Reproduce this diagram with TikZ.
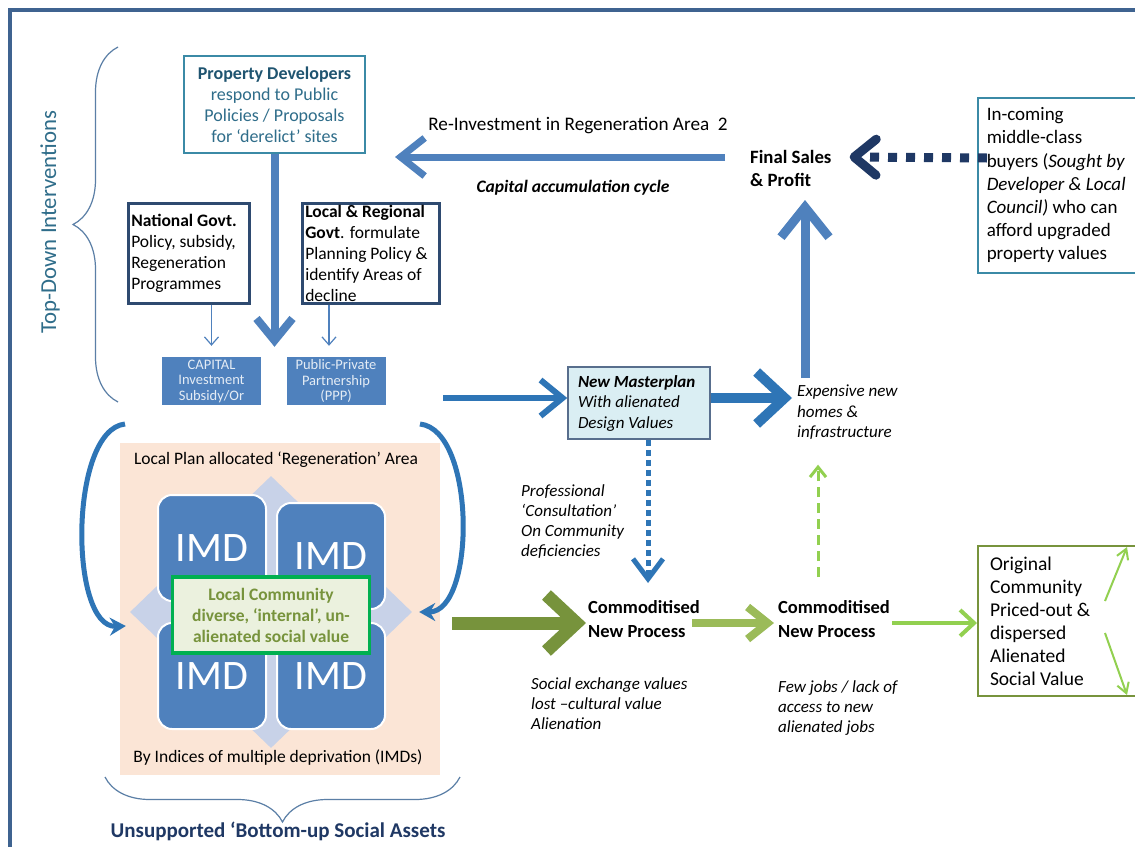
\documentclass[tikz,border=0pt]{standalone}
\usepackage{fontspec}
\setmainfont{Carlito}
\usetikzlibrary{ arrows.meta,
                 positioning,               % For easy node-relative placements
                 shapes.geometric,          % For the diamond behind the IMDs
                 decorations.pathreplacing, % For the braces
               }
\definecolor{frameblue}{HTML}{3F6390}
\definecolor{tealline}{HTML}{3B8AA6}
\definecolor{tealtext}{HTML}{2F6D8A}
\definecolor{tealhead}{HTML}{1F5470}
\definecolor{navy}{HTML}{1F3864}
\definecolor{boxnavy}{HTML}{2E4A70}
\definecolor{midblue}{HTML}{4F81BD}
\definecolor{brightblue}{HTML}{2E75B6}
\definecolor{paleblue}{HTML}{DAEEF3}
\definecolor{peach}{HTML}{FBE5D6}
\definecolor{rhombblue}{HTML}{C8D2E8}
\definecolor{darkgreen}{HTML}{77933C}
\definecolor{midgreen}{HTML}{9BBB59}
\definecolor{lightgreen}{HTML}{92D050}
\definecolor{commgreen}{HTML}{00B050}
\definecolor{commfill}{HTML}{EBF1DE}
\definecolor{bracegrey}{HTML}{5B7FA6}

\tikzstyle{tealbox} = [rectangle, draw=tealline, line width=1.5, fill=white]
\tikzstyle{govbox} = [rectangle, draw=boxnavy, line width=2.5, align=flush left, inner xsep=3, inner ysep=0, minimum height=100, anchor=north west]
\tikzstyle{fundbox} = [rectangle, fill=midblue, text=white!85!midblue, align=center, font=\fontsize{14.5}{15.5}\selectfont, minimum width=99, minimum height=48, inner sep=1]
\tikzstyle{imdbox} = [rectangle, rounded corners=14, fill=midblue, draw=white, line width=2, minimum width=108, minimum height=106, text=white, font=\fontsize{42}{42}\selectfont]
\tikzstyle{note} = [align=flush left, anchor=north west, inner sep=0, font=\fontsize{17}{20.3}\selectfont\itshape]
\tikzstyle{process} = [align=flush left, anchor=north west, inner sep=0, font=\fontsize{18.5}{24}\selectfont\bfseries]
\tikzstyle{fatarrow} = [midblue, line width=8, -{Straight Barb[length=22, width=36]}]
\tikzstyle{thinarrow} = [midblue, line width=1.2, -{Straight Barb[length=8, width=14]}]
\tikzstyle{curvearrow} = [brightblue, line width=5, -{Stealth[length=16, width=18]}]
\tikzstyle{brace} = [bracegrey, line width=1.2, decorate]

\begin{document}
\begin{tikzpicture}[x=1pt, y=-1pt, font=\fontsize{17.5}{21}\selectfont]
  \useasboundingbox (0,0) rectangle (1135,846);
  \fill[white] (0,0) rectangle (1135,846);
  \draw[frameblue, line width=4] (10,860) -- (10,10) -- (1145,10);

  % top-down side
  \draw[brace, decoration={brace, amplitude=45}] (118,402) -- (118,47);
  \node (topdown) [rotate=90, text=tealtext, font=\fontsize{22.8}{23}\selectfont] at (50,222) {Top-Down Interventions};

  \node (prop) [tealbox, text=tealtext, align=center, minimum width=181, minimum height=97, font=\fontsize{18}{21}\selectfont] at (274.5,104.5)
    {\textbf{\color{tealhead}Property Developers}\\respond to Public\\Policies / Proposals\\for ‘derelict’ sites};
  \node (natgov) [govbox, text width=115, minimum width=121] at (127,202)
    {\textbf{National Govt.}\\Policy, subsidy,\\Regeneration\\Programmes};
  \node (locgov) [govbox, text width=131, minimum width=137] at (301,202)
    {\textbf{Local \& Regional}\\\textbf{Govt}. formulate\\Planning Policy \&\\identify Areas of\\decline};
  \node (capital) [fundbox] at (211.5,381) {CAPITAL\\Investment\\Subsidy/Or};
  \node (ppp) [fundbox] at (336,381) {Public-Private\\Partnership\\(PPP)};

  \draw[fatarrow] (prop.south) -- ([yshift=10]prop.south |- capital.north);
  \draw[thinarrow] (natgov.south -| capital.north) -- ([yshift=11]capital.north);
  \draw[thinarrow] (locgov.south -| ppp.north) ++(-7,0) -- ([xshift=-7, yshift=11]ppp.north);

  % capital accumulation cycle
  \node (sales) [align=flush left, anchor=north west, inner sep=0, font=\fontsize{18.8}{23}\selectfont\bfseries] at (750,150) {Final Sales\\\& Profit};
  \node (reinvest) [font=\fontsize{19.2}{21}\selectfont] at (578,126) {Re-Investment in Regeneration Area\ \ 2};
  \node (cycle) [font=\fontsize{17.5}{21}\selectfont\bfseries\itshape] at (573,188) {Capital accumulation cycle};
  \coordinate (reinvTip) at (395,157);
  \coordinate (salesIn) at (805,200);
  \draw[fatarrow, line width=7, -{Straight Barb[length=24, width=38]}] (sales.west |- reinvTip) ++(-25,0) -- (reinvTip);

  \node (buyers) [tealbox, anchor=north west, align=flush left, text width=155, inner xsep=9, minimum height=175, font=\fontsize{19}{23.2}\selectfont] at (977,97)
    {In-coming\\middle-class\\buyers (\textit{Sought by}\\\textit{Developer \& Local}\\\textit{Council)} who can\\afford upgraded\\property values};
  \draw[navy, line width=9, dash pattern=on 9 off 9, -{Straight Barb[length=22, width=36, round]}] (buyers.west |- reinvTip) ++(10,1) -- ([xshift=18]sales.east |- reinvTip);

  % new masterplan
  \node (master) [rectangle, fill=paleblue, draw=boxnavy!80, line width=1.5, align=flush left, text width=122, inner xsep=10, minimum height=72, font=\fontsize{17}{20.5}\selectfont\itshape] at (639,403)
    {\textbf{New Masterplan}\\With alienated\\Design Values};
  \coordinate (pppOut) at (443,398);
  \draw[brightblue, line width=6, -{Straight Barb[length=22, width=36]}] (pppOut) -- (pppOut -| master.west);
  \node (homes) [note] at (797,385) {Expensive new\\homes \&\\infrastructure};
  \draw[brightblue, line width=10, -{Straight Barb[length=28, width=52]}] (master.east |- pppOut) -- ([xshift=-5]homes.west |- pppOut);
  \draw[fatarrow, line width=9, -{Straight Barb[length=30, width=48]}] ([xshift=8, yshift=7]homes.north west) -- (salesIn);

  % commodification chain
  \node (consult) [note] at (521,484) {Professional\\‘Consultation’\\On Community\\deficiencies};
  \node (proc1) [process] at (588,600) {Commoditised\\New Process};
  \node (proc2) [process] at (778,600) {Commoditised\\New Process};
  \node (lost) [note] at (531,677) {Social exchange values\\lost --cultural value\\Alienation};
  \node (jobs) [note] at (778,680) {Few jobs / lack of\\access to new\\alienated jobs};
  \draw[brightblue, line width=5, dash pattern=on 6 off 4, -{Straight Barb[length=20, width=30]}] ([xshift=9]master.south) -- ([xshift=9, yshift=17]master.south |- proc1.north);
  \draw[lightgreen, line width=3, dash pattern=on 10 off 6, -{Straight Barb[length=10, width=16]}] ([xshift=40, yshift=23]proc2.north west) -- ([xshift=21, yshift=-25]homes.south west);

  \node (orig) [rectangle, draw=darkgreen, line width=2, anchor=north west, align=flush left, text width=150, inner xsep=12, minimum height=150, font=\fontsize{19.5}{23}\selectfont] at (977,545)
    {Original\\Community\\Priced-out \&\\dispersed\\Alienated\\Social Value};
  \draw[lightgreen, line width=2, -{Straight Barb[length=10, width=12]}] ([xshift=128, yshift=20]orig.west) -- ([xshift=150, yshift=-2]orig.north west);
  \draw[lightgreen, line width=2, -{Straight Barb[length=10, width=12]}] ([xshift=128, yshift=-12]orig.west) -- ([xshift=150, yshift=2]orig.south west);

  % bottom-up side
  \node (area) [rectangle, fill=peach, anchor=north west, minimum width=320, minimum height=332] at (120,443) {};
  \node (areatitle) at (276,460) {Local Plan allocated ‘Regeneration’ Area};
  \node (areanote) at (278,757) {By Indices of multiple deprivation (IMDs)};
  \node (rhomb) [diamond, fill=rhombblue, minimum width=282, minimum height=272, inner sep=0] at (271,612) {};
  \node (imdTL) [imdbox] at (212,548) {IMD};
  \node (imdTR) [imdbox] at (331,556) {IMD};
  \node (imdBL) [imdbox] at (212,676) {IMD};
  \node (imdBR) [imdbox] at (331,676) {IMD};
  \node (community) [rectangle, fill=commfill, draw=commgreen, line width=3.5, minimum width=197, minimum height=76, align=center, text=darkgreen, font=\fontsize{17.5}{21}\selectfont\bfseries] at (271,615)
    {Local Community\\diverse, ‘internal’, un-\\alienated social value};

  \coordinate (leftTop) at (125,424);
  \coordinate (rightTop) at (420,424);
  \draw[curvearrow] (leftTop) .. controls (69,430) and (69,628) .. ([xshift=-4, yshift=-14]rhomb.west);
  \draw[curvearrow] (rightTop) .. controls (476,430) and (476,612) .. ([xshift=7]rhomb.east);

  \coordinate (greenStart) at (452,623);
  \draw[darkgreen, line width=13, -{Straight Barb[length=30, width=56]}] (greenStart) -- ([xshift=-2]greenStart -| proc1.west);
  \draw[midgreen, line width=8, -{Straight Barb[length=20, width=32]}] ([xshift=-8]proc1.east |- greenStart) -- ([xshift=-4]proc2.west |- greenStart);
  \draw[lightgreen, line width=4, -{Straight Barb[length=14, width=26]}] ([xshift=2]proc2.east |- greenStart) -- (orig.west |- greenStart);

  \draw[brace, decoration={brace, amplitude=45}] (460,777) -- (105,777);
  \node (bottomup) [text=navy, font=\fontsize{21}{21}\selectfont\bfseries] at (278,831) {Unsupported ‘Bottom-up Social Assets};
\end{tikzpicture}
\end{document}
